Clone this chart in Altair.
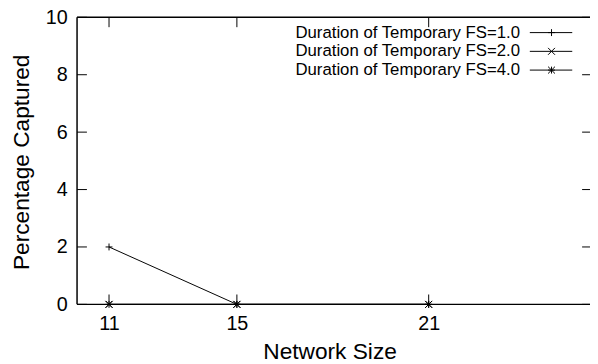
import altair as alt
import pandas as pd

# ---- data ----
network_sizes = [11, 15, 21]
series_names = [
    "Duration of Temporary FS=1.0",
    "Duration of Temporary FS=2.0",
    "Duration of Temporary FS=4.0",
]
fs_1 = [2, 0, 0]
fs_2 = [0, 0, 0]
fs_4 = [0, 0, 0]
x_ticks = [11, 15, 21]
y_ticks = [0, 2, 4, 6, 8, 10]

# ---- layout ----
W, H = 512, 291
FONT = "Liberation Sans"
TICK = 10
x_dom = [10, 25.8]
y_dom = [0, 10]

PLUS = "M-1,0L1,0M0,-1L0,1"
CROSS = "M-1,-1L1,1M-1,1L1,-1"
STAR = "M-1,0L1,0M0,-1L0,1M-1,-1L1,1M-1,1L1,-1"
shapes = [PLUS, CROSS, STAR]

rows = []
for name, vals in zip(series_names, [fs_1, fs_2, fs_4]):
    for x, v in zip(network_sizes, vals):
        rows.append({"size": x, "pct": v, "series": name})
df = pd.DataFrame(rows)

xs = alt.Scale(domain=x_dom, nice=False, zero=False)
ys = alt.Scale(domain=y_dom, nice=False, zero=False)
shape_scale = alt.Scale(domain=series_names, range=shapes)

x_axis = alt.Axis(
    values=x_ticks, domain=False, ticks=False, tickSize=0, grid=False,
    labelFont=FONT, labelFontSize=20, labelPadding=9, labelColor="black",
    labelBaseline="top",
    title="Network Size", titleFont=FONT, titleFontSize=23, titleFontWeight="normal",
    titleColor="black", titleBaseline="alphabetic", titleY=55,
)
y_axis = alt.Axis(
    values=y_ticks, domain=False, ticks=False, tickSize=0, grid=False,
    labelFont=FONT, labelFontSize=20, labelPadding=10, labelColor="black",
    title="Percentage Captured", titleFont=FONT, titleFontSize=23,
    titleFontWeight="normal", titleColor="black", titleAngle=-90,
    titleBaseline="alphabetic", titleAlign="center", titleX=-49, titleY=H / 2 + 1,
)

X = lambda f: alt.X(f, scale=xs, axis=x_axis)
Y = lambda f: alt.Y(f, scale=ys, axis=y_axis)

base = alt.Chart(df)
lines = base.mark_line(color="black", strokeWidth=1).encode(
    x=X("size:Q"), y=Y("pct:Q"), detail="series:N",
)
points = base.mark_point(filled=False, color="black", strokeWidth=1, size=49, opacity=1).encode(
    x=X("size:Q"), y=Y("pct:Q"),
    shape=alt.Shape("series:N", scale=shape_scale, legend=None),
)

xt = pd.DataFrame({"v": x_ticks})
yt = pd.DataFrame({"v": y_ticks})
frame_style = dict(color="black", strokeWidth=1)
xticks_bottom = alt.Chart(xt).mark_rule(**frame_style).encode(
    x=X("v:Q"), y=alt.value(H), y2=alt.value(H - TICK))
xticks_top = alt.Chart(xt).mark_rule(**frame_style).encode(
    x=X("v:Q"), y=alt.value(0), y2=alt.value(TICK))
yticks_left = alt.Chart(yt).mark_rule(**frame_style).encode(
    y=Y("v:Q"), x=alt.value(0), x2=alt.value(TICK))
yticks_right = alt.Chart(yt).mark_rule(**frame_style).encode(
    y=Y("v:Q"), x=alt.value(W), x2=alt.value(W + 8))

one = pd.DataFrame({"a": [0]})
frame_top = alt.Chart(one).mark_rule(color="black", strokeWidth=1.5).encode(
    x=alt.value(0), x2=alt.value(W + 8), y=alt.value(0))
frame_bottom = alt.Chart(one).mark_rule(color="black", strokeWidth=1.5).encode(
    x=alt.value(0), x2=alt.value(W + 8), y=alt.value(H))
frame_left = alt.Chart(one).mark_rule(color="black", strokeWidth=1.5).encode(
    x=alt.value(0), y=alt.value(0), y2=alt.value(H))

legend_layers = []
for i, name in enumerate(series_names):
    ly = 15.5 + i * 19
    ld = pd.DataFrame({"name": [name]})
    legend_layers.append(
        alt.Chart(ld).mark_text(align="right", baseline="middle", font=FONT,
                                fontSize=17, color="black").encode(
            text="name:N", x=alt.value(W - 63), y=alt.value(ly)))
    legend_layers.append(
        alt.Chart(ld).mark_rule(color="black", strokeWidth=1).encode(
            x=alt.value(W - 53), x2=alt.value(W - 10), y=alt.value(ly)))
    legend_layers.append(
        alt.Chart(ld).mark_point(filled=False, color="black", strokeWidth=1, size=49,
                                 opacity=1).encode(
            x=alt.value(W - 31), y=alt.value(ly),
            shape=alt.Shape("name:N", scale=shape_scale, legend=None)))

chart = alt.layer(
    lines, points, xticks_bottom, xticks_top, yticks_left, yticks_right,
    frame_top, frame_bottom, frame_left, *legend_layers,
).properties(
    width=W, height=H,
    autosize=alt.AutoSizeParams(type="none"),
    padding={"left": 70, "top": 7, "right": 8, "bottom": 58},
    background="white",
).configure_view(strokeWidth=0)

chart.save("out.html", embed_options={"renderer": "svg", "actions": False})
